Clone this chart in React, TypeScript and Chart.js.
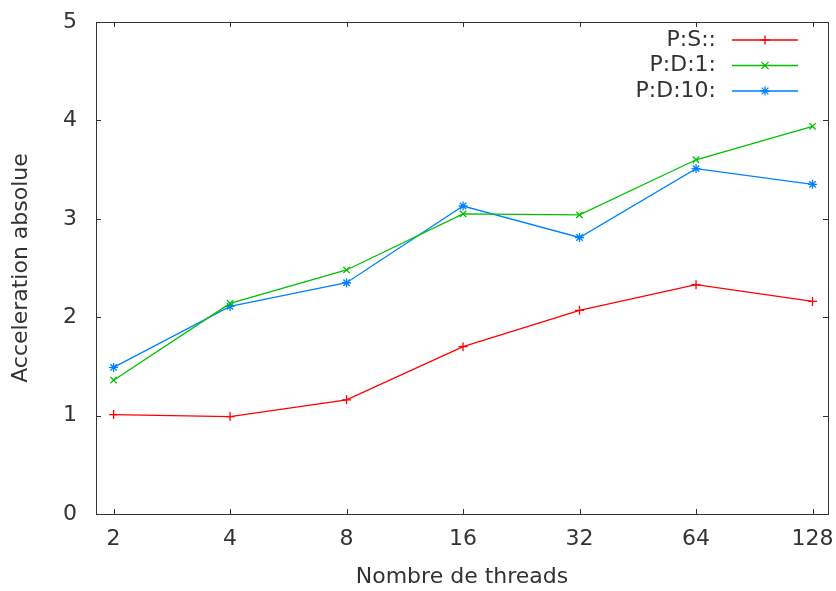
import React, { useEffect, useRef } from "react";
import { Chart, registerables } from "chart.js";

Chart.register(...registerables);

const categories = ["2", "4", "8", "16", "32", "64", "128"];
const seriesLabels = ["P:S::", "P:D:1:", "P:D:10:"];
const psValues = [1.01, 0.99, 1.16, 1.7, 2.07, 2.33, 2.16];
const pd1Values = [1.36, 2.14, 2.48, 3.05, 3.04, 3.6, 3.94];
const pd10Values = [1.49, 2.11, 2.35, 3.13, 2.81, 3.51, 3.35];
const yTicks = [0, 1, 2, 3, 4, 5];
const xTitle = "Nombre de threads";
const yTitle = "Acceleration absolue";

const FONT = "'DejaVu Sans', sans-serif";
const TEXT = "#333333";
const AXIS = "#333333";
const FS = 22;

function drawMarker(ctx: CanvasRenderingContext2D, style: string, x: number, y: number, r: number) {
  ctx.beginPath();
  if (style === "cross" || style === "star") {
    ctx.moveTo(x - r, y); ctx.lineTo(x + r, y);
    ctx.moveTo(x, y - r); ctx.lineTo(x, y + r);
  }
  if (style === "crossRot" || style === "star") {
    const d = style === "star" ? r * 0.75 : r * 0.8;
    ctx.moveTo(x - d, y - d); ctx.lineTo(x + d, y + d);
    ctx.moveTo(x - d, y + d); ctx.lineTo(x + d, y - d);
  }
  ctx.stroke();
}

const framePlugin = {
  id: "gnuFrame",
  afterDraw(chart: any) {
    const { ctx, chartArea } = chart;
    const { left, right, top, bottom } = chartArea;
    const xs = chart.scales.x;
    const ys = chart.scales.y;
    ctx.save();
    ctx.strokeStyle = AXIS;
    ctx.lineWidth = 1;
    ctx.strokeRect(Math.round(left) + 0.5, Math.round(top) + 0.5, Math.round(right - left), Math.round(bottom - top));
    const tl = 5;
    ctx.beginPath();
    categories.forEach((_, i) => {
      const px = Math.round(xs.getPixelForValue(i)) + 0.5;
      ctx.moveTo(px, bottom); ctx.lineTo(px, bottom - tl);
      ctx.moveTo(px, top); ctx.lineTo(px, top + tl);
    });
    yTicks.forEach((v) => {
      const py = Math.round(ys.getPixelForValue(v)) + 0.5;
      ctx.moveTo(left, py); ctx.lineTo(left + tl, py);
      ctx.moveTo(right, py); ctx.lineTo(right - tl, py);
    });
    ctx.stroke();

    ctx.fillStyle = TEXT;
    ctx.font = `${FS}px ${FONT}`;
    ctx.textAlign = "center";
    ctx.textBaseline = "middle";
    categories.forEach((c, i) => {
      ctx.fillText(c, xs.getPixelForValue(i), bottom + 25);
    });
    ctx.textAlign = "right";
    yTicks.forEach((v) => {
      ctx.fillText(String(v), left - 19, ys.getPixelForValue(v));
    });
    ctx.textAlign = "center";
    ctx.fillText(xTitle, (left + right) / 2, 577);
    ctx.save();
    ctx.translate(21, (top + bottom) / 2);
    ctx.rotate(-Math.PI / 2);
    ctx.fillText(yTitle, 0, 0);
    ctx.restore();

    const rowsY = [40, 65.5, 91];
    chart.data.datasets.forEach((ds: any, i: number) => {
      const y = rowsY[i];
      ctx.fillStyle = TEXT;
      ctx.font = `${FS}px ${FONT}`;
      ctx.textAlign = "right";
      ctx.textBaseline = "middle";
      ctx.fillText(ds.label, 716, y);
      ctx.strokeStyle = ds.borderColor;
      ctx.lineWidth = 1.3;
      ctx.beginPath();
      ctx.moveTo(732, y); ctx.lineTo(798, y);
      ctx.stroke();
      drawMarker(ctx, ds.pointStyle, 765, y, 4.5);
    });
    ctx.restore();
  },
};

export default function App() {
  const ref = useRef<HTMLCanvasElement | null>(null);
  useEffect(() => {
    if (!ref.current) return;
    const mk = (label: string, values: number[], color: string, style: string) => ({
      label,
      data: values.map((v, i) => ({ x: i, y: v })),
      borderColor: color,
      backgroundColor: color,
      borderWidth: 1.3,
      pointStyle: style,
      pointRadius: 4.5,
      pointBorderWidth: 1.3,
      pointHoverRadius: 4.5,
      tension: 0,
    });
    const chart = new Chart(ref.current, {
      type: "line",
      data: {
        datasets: [
          mk(seriesLabels[0], psValues, "#ff0000", "cross"),
          mk(seriesLabels[1], pd1Values, "#00c000", "crossRot"),
          mk(seriesLabels[2], pd10Values, "#0080ff", "star"),
        ],
      },
      options: {
        animation: false,
        responsive: false,
        events: [],
        layout: { padding: { top: 22, right: 8, left: 0, bottom: 0 } },
        plugins: { legend: { display: false }, tooltip: { enabled: false } },
        scales: {
          x: {
            type: "linear",
            min: -0.151,
            max: 6.133,
            grid: { display: false, drawTicks: false },
            border: { display: false },
            afterFit: (s: any) => { s.height = 77; },
            ticks: { display: false },
          },
          y: {
            min: 0,
            max: 5,
            grid: { display: false, drawTicks: false },
            border: { display: false },
            afterFit: (s: any) => { s.width = 96; },
            ticks: { display: false },
          },
        },
      },
      plugins: [framePlugin],
    } as any);
    return () => chart.destroy();
  }, []);
  return (
    <div style={{ position: "fixed", left: 0, top: 0, width: 836, height: 591, background: "#fff" }}>
      <canvas ref={ref} width={836} height={591} style={{ width: 836, height: 591 }} />
    </div>
  );
}
